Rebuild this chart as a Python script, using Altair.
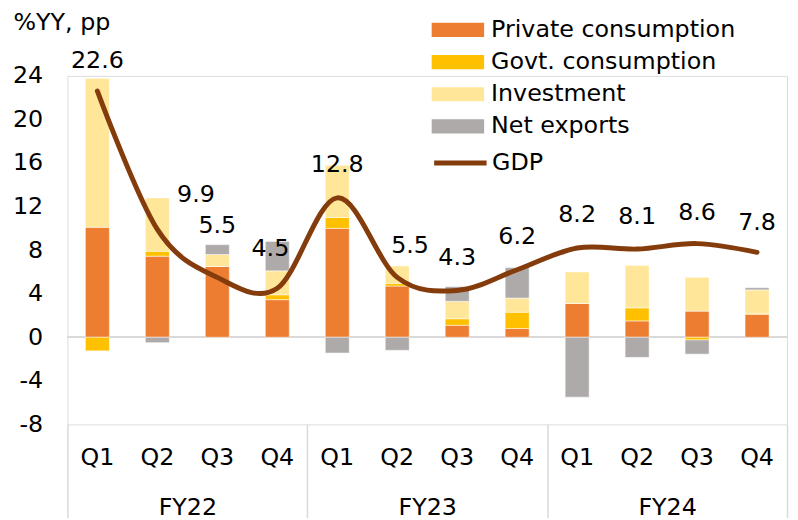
import altair as alt
import pandas as pd

# ---- data ----
fiscal_years = ["FY22"] * 4 + ["FY23"] * 4 + ["FY24"] * 4
quarters = ["Q1", "Q2", "Q3", "Q4"] * 3
series_names = ["Private consumption", "Govt. consumption", "Investment", "Net exports"]
series_colors = ["#ED7D31", "#FFC000", "#FFE699", "#AEAAAA"]

private_cons = [10.1, 7.45, 6.5, 3.45, 10.0, 4.7, 1.1, 0.8, 3.1, 1.5, 2.4, 2.1]
govt_cons = [-1.25, 0.45, 0.0, 0.45, 1.0, 0.25, 0.6, 1.5, 0.0, 1.2, -0.25, 0.1]
investment = [13.7, 4.9, 1.1, 2.2, 4.8, 1.6, 1.6, 1.3, 2.9, 3.9, 3.1, 2.15]
net_exports = [0.0, -0.5, 0.9, 2.7, -1.45, -1.2, 1.35, 2.8, -5.5, -1.85, -1.3, 0.2]
gdp = [22.6, 9.9, 5.5, 4.5, 12.8, 5.5, 4.3, 6.2, 8.2, 8.1, 8.6, 7.8]

# annotation placement (data units / pixel nudges) for the GDP value labels
label_y = [25.4, 13.1, 10.2, 8.1, 15.8, 8.4, 7.3, 9.2, 11.2, 11.0, 11.4, 10.5]
label_dx = [0, 39, 0, -7, 0, 13, 0, 0, 0, 0, 0, 0]

y_ticks = [-8, -4, 0, 4, 8, 12, 16, 20, 24]

FONT = "DejaVu Sans"
FS = 24

keys = [f"{f} {q}" for f, q in zip(fiscal_years, quarters)]

rows = []
for i, k in enumerate(keys):
    for j, (name, vals) in enumerate(zip(series_names, [private_cons, govt_cons, investment, net_exports])):
        rows.append({"key": k, "series": name, "order": j, "value": vals[i]})
bars_df = pd.DataFrame(rows)

gdp_df = pd.DataFrame({
    "key": keys, "gdp": gdp, "name": ["GDP"] * len(keys),
    "label_y": label_y, "dx": label_dx,
    "label": [f"{v:.1f}" for v in gdp],
})
fy_df = pd.DataFrame({"fy": ["FY22", "FY23", "FY24"]})

x_enc = alt.X(
    "key:N", sort=keys,
    scale=alt.Scale(paddingInner=0.6, paddingOuter=0.3),
    axis=alt.Axis(
        title=None, labelExpr="split(datum.label, ' ')[1]", labelAngle=0,
        ticks=False, domain=False, labelPadding=22, labelFontSize=FS,
        labelFont=FONT, labelColor="#000000",
    ),
)
y_scale = alt.Scale(domain=[-8, 24], nice=False, zero=False)
y_axis = alt.Axis(
    values=y_ticks, ticks=False, domain=False, grid=False, labelPadding=25,
    labelExpr="toString(datum.value)",
    labelFontSize=FS, labelFont=FONT, labelColor="#000000",
    title="%YY, pp", titleAngle=0, titleX=-55, titleY=-47, titleAlign="left",
    titleBaseline="alphabetic", titleFontWeight="normal", titleFontSize=FS,
    titleFont=FONT, titleColor="#000000",
)

zero_rule = alt.Chart(bars_df).mark_rule(color="#D9D9D9", strokeWidth=1.5).encode(
    y=alt.datum(0, scale=y_scale)
)

SYM = 702  # sqrt = 26.5

bars = alt.Chart(bars_df).mark_bar(stroke="white", strokeWidth=0.5).encode(
    x=x_enc,
    y=alt.Y("value:Q", stack="zero", scale=y_scale, axis=y_axis),
    color=alt.Color(
        "series:N",
        scale=alt.Scale(domain=series_names, range=series_colors),
        legend=alt.Legend(
            title=None, orient="none", legendX=381, legendY=-60,
            symbolType="M-2,-0.54H2V0.54H-2Z", symbolSize=SYM,
            symbolStrokeWidth=0, labelFontSize=FS, labelFont=FONT,
            labelColor="#000000", labelOffset=20, rowPadding=6.5, padding=0,
            labelLimit=400,
        ),
    ),
    order=alt.Order("order:Q", sort="ascending"),
)

line = alt.Chart(gdp_df).mark_line(
    strokeWidth=5, interpolate="cardinal", strokeCap="round"
).encode(
    x=alt.X("key:N", sort=keys),
    y=alt.Y("gdp:Q", scale=y_scale),
    stroke=alt.Stroke(
        "name:N",
        scale=alt.Scale(domain=["GDP"], range=["#843C0C"]),
        legend=alt.Legend(
            title=None, orient="none", legendX=381, legendY=72,
            symbolType="M-2,0H2", symbolSize=SYM, symbolStrokeWidth=5,
            labelFontSize=FS, labelFont=FONT, labelColor="#000000",
            labelOffset=16, padding=0, labelLimit=400,
        ),
    ),
)

text_layers = []
for d in sorted(set(label_dx)):
    text_layers.append(
        alt.Chart(gdp_df).transform_filter(alt.datum.dx == d).mark_text(
            dx=d, fontSize=FS, font=FONT, color="#000000", baseline="middle"
        ).encode(
            x=alt.X("key:N", sort=keys),
            y=alt.Y("label_y:Q", scale=y_scale),
            text="label:N",
        )
    )

main = alt.layer(zero_rule, bars, line, *text_layers)

fy_axis_layer = alt.Chart(fy_df).mark_point(opacity=0).encode(
    x=alt.X(
        "fy:N",
        scale=alt.Scale(paddingInner=0, paddingOuter=0),
        axis=alt.Axis(
            orient="bottom", title=None, labelAngle=0, domain=False,
            ticks=True, tickBand="extent", tickSize=94, tickColor="#D9D9D9",
            tickWidth=1.5, labelPadding=-22, labelFontSize=FS, labelFont=FONT,
            labelColor="#000000",
        ),
    )
)

chart = alt.layer(main, fy_axis_layer).resolve_scale(x="independent").properties(
    width=727, height=352,
    padding={"left": 60, "top": 66, "right": 3, "bottom": 94},
    autosize=alt.AutoSizeParams(type="none"),
).configure_view(stroke=None).configure(font=FONT)

chart.save("out.html", embed_options={"renderer": "svg", "actions": False})
